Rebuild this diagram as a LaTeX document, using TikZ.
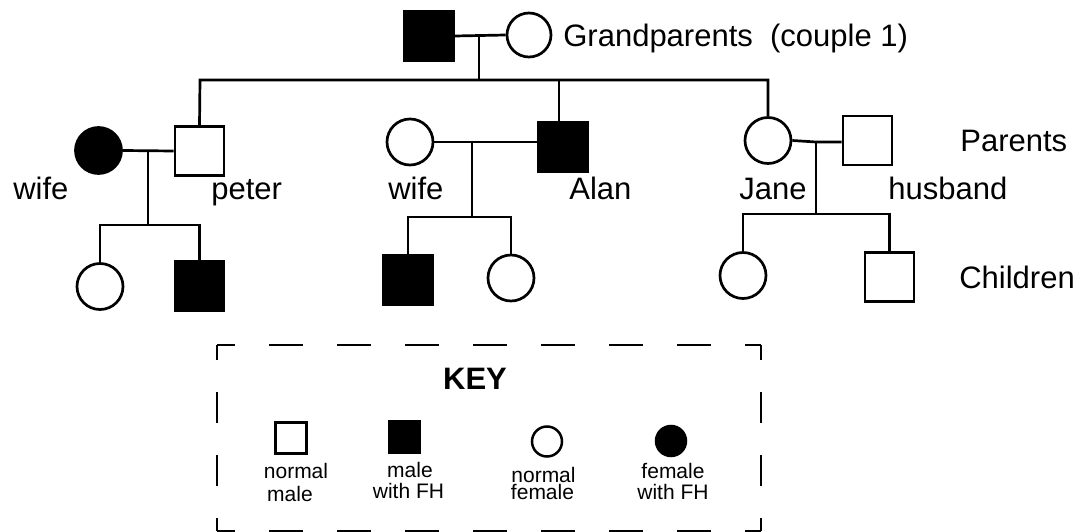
\documentclass[tikz,border=0pt]{standalone}
\usepackage{fontspec}
\setmainfont{Liberation Sans}
\begin{document}
\begin{tikzpicture}[x=1pt,y=-1pt,line width=2.7pt,
  male/.style={draw,rectangle,minimum size=49pt,inner sep=0pt},
  female/.style={draw,circle,minimum size=46pt,inner sep=0pt},
  aff/.style={fill=black},
  kmale/.style={draw,rectangle,line width=2.5pt,minimum size=31pt,inner sep=0pt},
  kfemale/.style={draw,circle,line width=2.5pt,minimum size=30pt,inner sep=0pt},
  lbl/.style={font=\fontsize{31}{36}\selectfont,anchor=base west,inner sep=0pt},
  klbl/.style={font=\fontsize{21}{24}\selectfont,anchor=base,inner sep=0pt},
  hdash/.style={line width=2.7pt,dash pattern=on 34pt off 34pt,dash phase=16pt},
  vdash/.style={line width=2.7pt,dash pattern=on 31pt off 32pt,dash phase=16pt}]
\useasboundingbox (0,0) rectangle (1085,532);

% grandparents
\node[male,aff] (gf) at (429,36) {};
\node[female,minimum size=44pt] (gm) at (529,35) {};
\node[lbl] (tgp) at (562,47) {Grandparents\ \ (couple 1)};

% parents generation
\node[female,aff] (w1) at (98.5,150.5) {};
\node[male] (peter) at (199.5,151) {};
\node[female] (w2) at (410,142) {};
\node[male,aff] (alan) at (563,147) {};
\node[female] (jane) at (768,140.5) {};
\node[male] (hus) at (867.5,140.5) {};

% children
\node[female] (c1) at (100,286.5) {};
\node[male,aff] (c2) at (199.5,286) {};
\node[male,aff] (c3) at (408,280) {};
\node[female] (c4) at (511,278) {};
\node[female] (c5) at (743,275.5) {};
\node[male] (c6) at (889.5,277) {};

% junction coordinates
\coordinate (m0) at (479,35);
\coordinate (s0) at (479,80);
\coordinate (sL) at (200,80);
\coordinate (sA) at (559,80);
\coordinate (sR) at (768,80);
\coordinate (m1) at (148,150);
\coordinate (k1) at (148,225);
\coordinate (m2) at (472,141);
\coordinate (k2) at (472,217);
\coordinate (m3) at (816,142);
\coordinate (k3) at (816,214);

% grandparents couple and sibship
\draw (gf.east) -- (gm.west);
\draw (m0) -- (s0);
\draw (peter.north) -- (sL) -- (sR) -- (jane.north);
\draw (sA) -- (sA |- alan.north);

% couple lines
\draw (w1.east) -- (peter.west);
\draw (w2.east) -- (w2.east -| alan.west);
\draw (jane.east) -- (m3) -- (m3 -| hus.west);

% descent lines
\draw (m1) -- (k1);
\draw (c1.north) |- (k1) -| (c2.north);
\draw (m2) -- (k2);
\draw (c3.north) |- (k2) -| (c4.north);
\draw (m3) -- (k3);
\draw (c5.north) |- (k3) -| (c6.north);

% labels
\node[lbl] (tw1) at (12,200) {wife};
\node[lbl] (tpeter) at (210,200) {peter};
\node[lbl] (tw2) at (387,200) {wife};
\node[lbl] (talan) at (568,200) {Alan};
\node[lbl] (tjane) at (738,200) {Jane};
\node[lbl] (thus) at (887,200) {husband};
\node[lbl] (tpar) at (959,152) {Parents};
\node[lbl] (tchi) at (958,288) {Children};

% key box
\coordinate (kTL) at (217,345);
\coordinate (kTR) at (761,345);
\coordinate (kBL) at (217,531);
\coordinate (kBR) at (761,531);
\draw[hdash] (kTL) -- (kTR);
\draw[hdash] (kBL) -- (kBR);
\draw[vdash] (kTL) -- (kBL);
\draw[vdash] (kTR) -- (kBR);

\node[font=\fontsize{31}{36}\selectfont\bfseries,anchor=base,inner sep=0pt] (key) at (475,389) {KEY};

\node[kmale] (k1s) at (291,438) {};
\node[kmale,aff] (k2s) at (404.5,437) {};
\node[kfemale] (k3s) at (547,441.5) {};
\node[kfemale,aff] (k4s) at (671,441) {};

\node[klbl] (k1a) at (296,478) {normal};
\node[klbl] (k1b) at (290,501) {male};
\node[klbl] (k2a) at (410,477) {male};
\node[klbl] (k2b) at (408.5,498) {with FH};
\node[klbl] (k3a) at (543.5,482) {normal};
\node[klbl] (k3b) at (542.5,499) {female};
\node[klbl] (k4a) at (673,478) {female};
\node[klbl] (k4b) at (673,499) {with FH};
\end{tikzpicture}
\end{document}
